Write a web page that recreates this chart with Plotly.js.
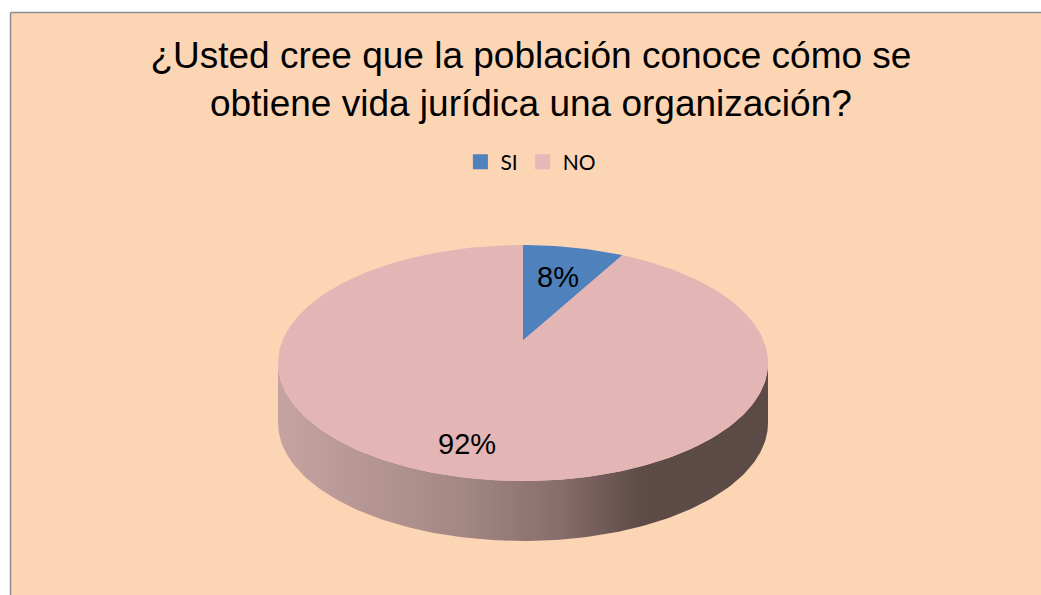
<!DOCTYPE html>
<html>
<head>
<meta charset="utf-8">
<script src="https://cdn.plot.ly/plotly-3.0.1.min.js"></script>
<style>
html, body { margin: 0; padding: 0; background: #fcd5b5; overflow: hidden; }
#graph { width: 1041px; height: 595px; }
</style>
</head>
<body>
<div id="graph"></div>
<script>
// answers to the survey question
var categories = ['SI', 'NO'];
var percents = [8, 92];
var labelText = ['8%', '92%'];
var topColors = ['#4f81bd', '#e3b6b5'];
var labelR = [0.65, 0.8];

// pie look (pixel axes, 3d tilt done with a simple perspective map)
var cx = 523, cy = 363, rx = 245, ry = 118, depth = 60, tilt = 0.19;
var k = Math.sqrt(1 - tilt * tilt);
var STEP = Math.PI / 180;

function project(theta, r) {
    var u = r * Math.sin(theta), v = r * Math.cos(theta);
    var d = 1 + tilt * v;
    return [cx + rx * u * k / d, cy - ry * (v + tilt) / d];
}

var total = percents.reduce(function (a, b) { return a + b; }, 0);
var frontStart = Math.acos(-tilt);
var frontEnd = 2 * Math.PI - frontStart;

var sideTraces = [];
var topTraces = [];
var annotations = [];
var cum = 0;

for (var i = 0; i < percents.length; i++) {
    var a0 = 2 * Math.PI * cum / total;
    var a1 = 2 * Math.PI * (cum + percents[i]) / total;
    cum += percents[i];

    // top face
    var apex = project(0, 0);
    var xs = [apex[0]], ys = [apex[1]];
    for (var t = a0; t < a1; t += STEP) {
        var p = project(t, 1);
        xs.push(p[0]); ys.push(p[1]);
    }
    var pe = project(a1, 1);
    xs.push(pe[0], apex[0]); ys.push(pe[1], apex[1]);
    topTraces.push({
        x: xs, y: ys, type: 'scatter', mode: 'lines', fill: 'toself',
        fillcolor: topColors[i], line: {width: 0, color: topColors[i]},
        hoverinfo: 'skip', showlegend: false
    });

    // visible rim of this slice
    var s0 = Math.max(a0, frontStart), s1 = Math.min(a1, frontEnd);
    if (s1 > s0) {
        var tx = [], ty = [], bx = [], by = [];
        for (var t2 = s0; t2 < s1; t2 += STEP) {
            var q = project(t2, 1);
            tx.push(q[0]); ty.push(q[1]);
        }
        var qe = project(s1, 1);
        tx.push(qe[0]); ty.push(qe[1]);
        for (var j = tx.length - 1; j >= 0; j--) {
            bx.push(tx[j]); by.push(ty[j] + depth);
        }
        sideTraces.push({
            x: tx.concat(bx, [tx[0]]), y: ty.concat(by, [ty[0]]),
            type: 'scatter', mode: 'lines', fill: 'toself',
            line: {width: 0, color: '#8a6f6d'},
            fillgradient: {
                type: 'horizontal', start: cx - rx, stop: cx + rx,
                colorscale: [[0, '#c6a3a1'], [0.37, '#a48884'], [0.58, '#866c6b'],
                             [0.74, '#5e4b48'], [1, '#5c4a47']]
            },
            hoverinfo: 'skip', showlegend: false
        });
    }

    var lp = project((a0 + a1) / 2, labelR[i]);
    annotations.push({
        x: lp[0], y: lp[1], xref: 'x', yref: 'y', text: labelText[i],
        showarrow: false, font: {family: 'Liberation Sans, Arial', size: 29, color: '#000'}
    });
}

// legend entries
var legendTraces = categories.map(function (c, i) {
    return {
        x: [null], y: [null], type: 'scatter', mode: 'markers', name: c,
        marker: {symbol: 'square', size: 15, color: i == 0 ? '#4f81bd' : '#e6b9b8'},
        hoverinfo: 'skip'
    };
});

// white outside margin on the left and top, grey frame line
var leftEdge = 10.5 / 1041, topEdge = 1 - 12.5 / 595;

var layout = {
    width: 1041, height: 595,
    margin: {l: 0, r: 0, t: 0, b: 0},
    paper_bgcolor: '#fcd5b5',
    plot_bgcolor: 'rgba(0,0,0,0)',
    xaxis: {range: [0, 1041], visible: false, fixedrange: true},
    yaxis: {range: [595, 0], visible: false, fixedrange: true},
    title: {
        text: '¿Usted cree que la población conoce cómo se<br>obtiene vida jurídica una organización?',
        x: 0.51, xanchor: 'center', y: 1 - 68 / 595, yanchor: 'top',
        font: {family: 'Liberation Sans, Arial', size: 37, color: '#000'}
    },
    showlegend: true,
    legend: {
        orientation: 'h', x: 0.51, xanchor: 'center', y: 1 - 162 / 595, yanchor: 'middle',
        font: {family: 'Lato', size: 21, color: '#000'}, bgcolor: 'rgba(0,0,0,0)'
    },
    shapes: [
        {type: 'rect', xref: 'paper', yref: 'paper', x0: 0, x1: leftEdge, y0: 0, y1: 1,
         fillcolor: '#ffffff', line: {width: 0}, layer: 'below'},
        {type: 'rect', xref: 'paper', yref: 'paper', x0: 0, x1: 1, y0: topEdge, y1: 1,
         fillcolor: '#ffffff', line: {width: 0}, layer: 'below'},
        {type: 'line', xref: 'paper', yref: 'paper', x0: leftEdge, x1: leftEdge, y0: 0, y1: topEdge,
         line: {color: '#8c8c8c', width: 1.5}, layer: 'below'},
        {type: 'line', xref: 'paper', yref: 'paper', x0: leftEdge, x1: 1, y0: topEdge, y1: topEdge,
         line: {color: '#8c8c8c', width: 1.5}, layer: 'below'}
    ],
    annotations: annotations
};

Plotly.newPlot('graph', sideTraces.concat(topTraces, legendTraces), layout, {displayModeBar: false, staticPlot: true});
</script>
</body>
</html>
